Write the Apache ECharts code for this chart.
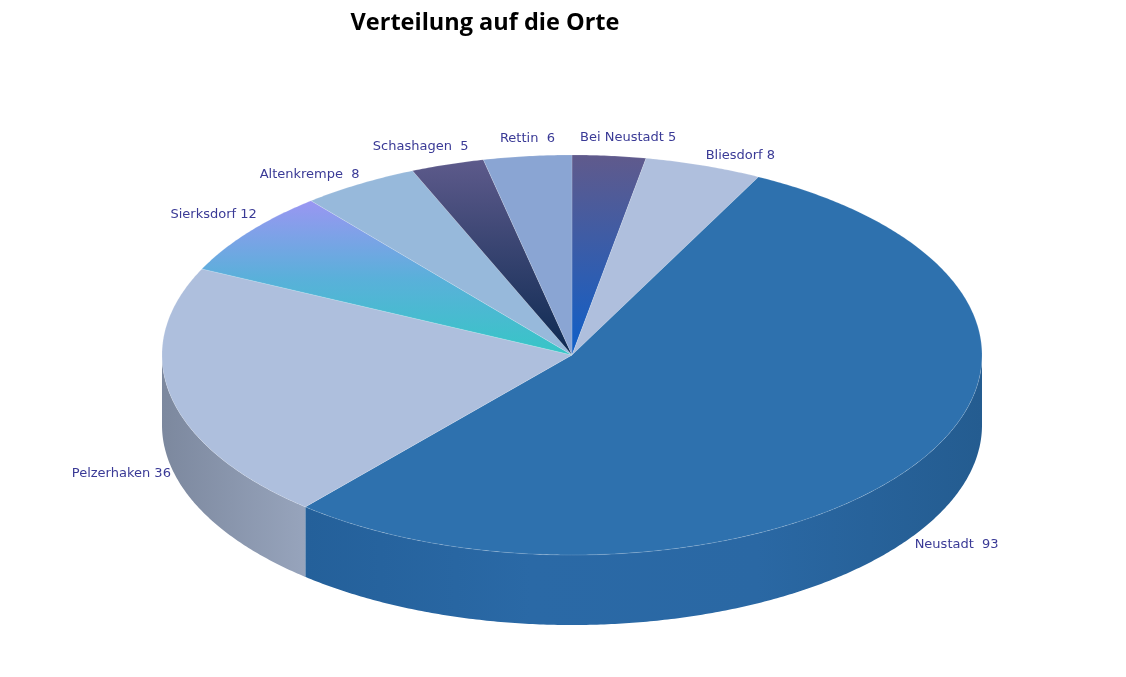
<!DOCTYPE html>
<html>
<head>
<meta charset="utf-8">
<script src="https://cdn.jsdelivr.net/npm/echarts@6/dist/echarts.min.js"></script>
<style>
html,body{margin:0;padding:0;background:#fff;}
#chart{width:1126px;height:677px;}
</style>
</head>
<body>
<div id="chart"></div>
<script>
// ---- data (clockwise from 12 o'clock) ----
var categories = ['Bei Neustadt', 'Bliesdorf', 'Neustadt ', 'Pelzerhaken', 'Sierksdorf', 'Altenkrempe ', 'Schashagen ', 'Rettin '];
var values = [5, 8, 93, 36, 12, 8, 5, 6];

// ---- styles ----
var topColors = [
  ['#605a8c', '#0f5fc8'],
  ['#afbfdd'],
  ['#2e71ae'],
  ['#aebfdd'],
  ['#9a96f2', '#5ab0da', '#36c6c6'],
  ['#97b9db'],
  ['#5d5a8b', '#0d2a52'],
  ['#8aa5d3']
];
var sideColors = [
  ['#3c4d86', '#3c4d86'],
  ['#8a99b6', '#8a99b6'],
  ['#24609a', '#2a69a6', '#2a68a4', '#245c90'],
  ['#7c889e', '#97a4bc'],
  ['#4a92b0', '#4a92b0'],
  ['#7893ae', '#7893ae'],
  ['#1e2f55', '#1e2f55'],
  ['#6d84aa', '#6d84aa']
];
var labelNudge = [[19, -6], [2, 2], [2, 1], [0, 0], [8, -5], [0, 3], [21, -6], [0, -6]];

var layout = { cx: 572, cy: 355, rx: 410, ry: 200, depth: 70 };

var total = values.reduce(function (a, b) { return a + b; }, 0);
var starts = [], ends = [];
(function () {
  var acc = 0;
  for (var i = 0; i < values.length; i++) {
    starts.push(acc / total * 360);
    acc += values[i];
    ends.push(acc / total * 360);
  }
})();

function pt(deg, dy) {
  var r = deg * Math.PI / 180;
  return [layout.cx + layout.rx * Math.sin(r), layout.cy - layout.ry * Math.cos(r) + (dy || 0)];
}
function grad(cols, horizontal) {
  if (cols.length === 1) return cols[0];
  var stops = cols.map(function (c, k) { return { offset: k / (cols.length - 1), color: c }; });
  return horizontal
    ? { type: 'linear', x: 0, y: 0, x2: 1, y2: 0, colorStops: stops }
    : { type: 'linear', x: 0, y: 0, x2: 0, y2: 1, colorStops: stops };
}

function renderItem(params, api) {
  var i = params.dataIndex;
  var a0 = starts[i], a1 = ends[i];
  var children = [];
  // side wall (front half: 90..270 degrees)
  var s = Math.max(a0, 90), e = Math.min(a1, 270);
  if (e > s) {
    var top = [], bot = [];
    for (var t = s; t <= e + 1e-6; t += 0.5) { top.push(pt(Math.min(t, e))); }
    top.push(pt(e));
    for (var k = top.length - 1; k >= 0; k--) { bot.push([top[k][0], top[k][1] + layout.depth]); }
    children.push({
      type: 'polygon', z2: 1,
      shape: { points: top.concat(bot) },
      style: { fill: grad(sideColors[i], true), stroke: null }
    });
  }
  // top face
  var pts = [[layout.cx, layout.cy]];
  for (var t2 = a0; t2 < a1; t2 += 0.5) pts.push(pt(t2));
  pts.push(pt(a1));
  children.push({
    type: 'polygon', z2: 2,
    shape: { points: pts },
    style: { fill: grad(topColors[i], false), stroke: 'rgba(255,255,255,0.25)', lineWidth: 0.6 }
  });
  // label
  var m = (a0 + a1) / 2;
  var rad = m * Math.PI / 180;
  var sn = Math.sin(rad), cs = Math.cos(rad);
  var front = cs < 0;
  var p = pt(m, front ? layout.depth : 0);
  var align = sn > 0.15 ? 'left' : (sn < -0.15 ? 'right' : 'center');
  children.push({
    type: 'text', z2: 3,
    x: p[0] + labelNudge[i][0],
    y: p[1] + (front ? 7 : -12) + labelNudge[i][1],
    style: {
      text: categories[i] + ' ' + api.value(1),
      fill: '#3a3a96',
      font: '13px "DejaVu Sans", sans-serif',
      align: align,
      verticalAlign: 'middle'
    }
  });
  return { type: 'group', children: children };
}

var chart = echarts.init(document.getElementById('chart'));
chart.setOption({
  animation: false,
  title: {
    text: 'Verteilung auf die Orte',
    left: 480, top: 6, textAlign: 'center',
    textStyle: { fontFamily: 'Open Sans', fontWeight: 'bold', fontSize: 23.5, color: '#000' }
  },
  series: [{
    type: 'custom',
    coordinateSystem: 'none',
    renderItem: renderItem,
    data: values.map(function (v, i) { return [i, v]; })
  }]
});
</script>
</body>
</html>
